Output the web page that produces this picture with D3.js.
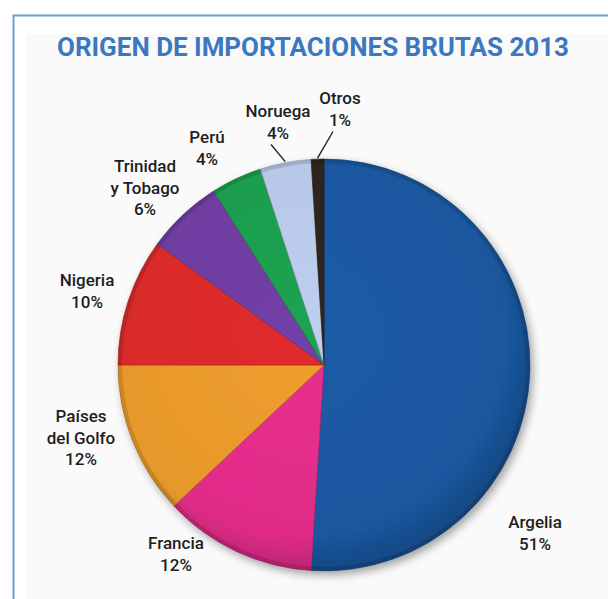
<!DOCTYPE html>
<html>
<head>
<meta charset="utf-8">
<script src="https://cdn.jsdelivr.net/npm/d3@7"></script>
<style>
  body { margin: 0; background: #fff; }
  svg { display: block; }
  text { font-family: Roboto, "Noto Sans", sans-serif; }
</style>
</head>
<body>
<svg id="chart" width="608" height="599"></svg>
<script>
// datos
let paises = ["Argelia", "Francia", "Países del Golfo", "Nigeria", "Trinidad y Tobago", "Perú", "Noruega", "Otros"]
let porcentajes = [51, 12, 12, 10, 6, 4, 4, 1]
let etiquetas = [["Argelia"], ["Francia"], ["Países", "del Golfo"], ["Nigeria"], ["Trinidad", "y Tobago"], ["Perú"], ["Noruega"], ["Otros"]]
let colores = ["#1a579f", "#e02c88", "#e6982c", "#d8292b", "#6e3ca0", "#1c9c4e", "#b6c6e6", "#2e2519"]

let titulo = "ORIGEN DE IMPORTACIONES BRUTAS 2013"

// posicion de las etiquetas (centro de la primera linea)
let posEtiquetas = {
    "Argelia": [535, 528],
    "Francia": [176, 549],
    "Países del Golfo": [81, 422],
    "Nigeria": [87, 286],
    "Trinidad y Tobago": [145, 172],
    "Perú": [207, 143],
    "Noruega": [278, 117],
    "Otros": [340, 104]
}
let conLinea = ["Noruega", "Otros"]

let svg = d3.select("#chart")
let cx = 324, cy = 365, r = 206

// marco
svg.append("rect").attr("x", 26).attr("y", 34).attr("width", 600).attr("height", 600).attr("fill", "#fafafa")
svg.append("path")
    .attr("d", "M13.5,612 L13.5,15.5 L612,15.5")
    .attr("fill", "none").attr("stroke", "#6f9bd6").attr("stroke-width", 2)

svg.append("text")
    .text(titulo)
    .attr("x", 313).attr("y", 56)
    .attr("text-anchor", "middle")
    .attr("font-size", 25)
    .attr("font-weight", 700)
    .attr("fill", "#3b78c0")
    .attr("textLength", 512)
    .attr("lengthAdjust", "spacingAndGlyphs")

let defs = svg.append("defs")
let sombra = defs.append("filter").attr("id", "sombra").attr("x", "-20%").attr("y", "-20%").attr("width", "140%").attr("height", "140%")
sombra.append("feDropShadow").attr("dx", 3).attr("dy", 4).attr("stdDeviation", 4).attr("flood-color", "#000").attr("flood-opacity", 0.35)

// gradiente para dar volumen (coordenadas locales del grupo centrado)
colores.forEach((c, i) => {
    let g = defs.append("radialGradient").attr("id", "grad" + i)
        .attr("gradientUnits", "userSpaceOnUse")
        .attr("cx", -20).attr("cy", -30).attr("r", r + 30)
    g.append("stop").attr("offset", "0%").attr("stop-color", d3.color(c).brighter(0.12))
    g.append("stop").attr("offset", "85%").attr("stop-color", c)
    g.append("stop").attr("offset", "100%").attr("stop-color", d3.color(c).darker(0.5))
})

let pie = d3.pie().sort(null).value(d => d)
let arcs = pie(porcentajes)
let arc = d3.arc().innerRadius(0).outerRadius(r)
let arcBorde = d3.arc().innerRadius(r + 1).outerRadius(r + 1)

let g = svg.append("g").attr("transform", `translate(${cx},${cy})`)

g.append("g").attr("filter", "url(#sombra)")
    .selectAll("path")
    .data(arcs)
    .join("path")
    .attr("d", arc)
    .attr("fill", (d, i) => `url(#grad${i})`)
    .attr("stroke", (d, i) => d3.color(colores[i]).darker(0.8))
    .attr("stroke-width", 0.6)

// oscurecer un poco el borde
g.append("circle").attr("r", r - 2).attr("fill", "none")
    .attr("stroke", "#000").attr("stroke-opacity", 0.12).attr("stroke-width", 4)

// etiquetas
paises.forEach((p, i) => {
    let [x, y] = posEtiquetas[p]
    let lineas = etiquetas[i].concat([porcentajes[i] + "%"])
    let t = svg.append("text")
        .attr("x", x).attr("y", y)
        .attr("text-anchor", "middle")
        .attr("font-size", 17)
        .attr("font-weight", 500)
        .attr("fill", "#1e1e1e")
    lineas.forEach((l, k) => {
        t.append("tspan").attr("x", x).attr("dy", k === 0 ? 0 : 21.5).text(l)
    })
    if (conLinea.includes(p)) {
        let [ex, ey] = arcBorde.centroid(arcs[i])
        let yl = y + 21.5 * (lineas.length - 1) + 6
        svg.append("line")
            .attr("x1", x - 7).attr("y1", yl)
            .attr("x2", cx + ex).attr("y2", cy + ey)
            .attr("stroke", "#222").attr("stroke-width", 1.4)
    }
})
</script>
</body>
</html>
